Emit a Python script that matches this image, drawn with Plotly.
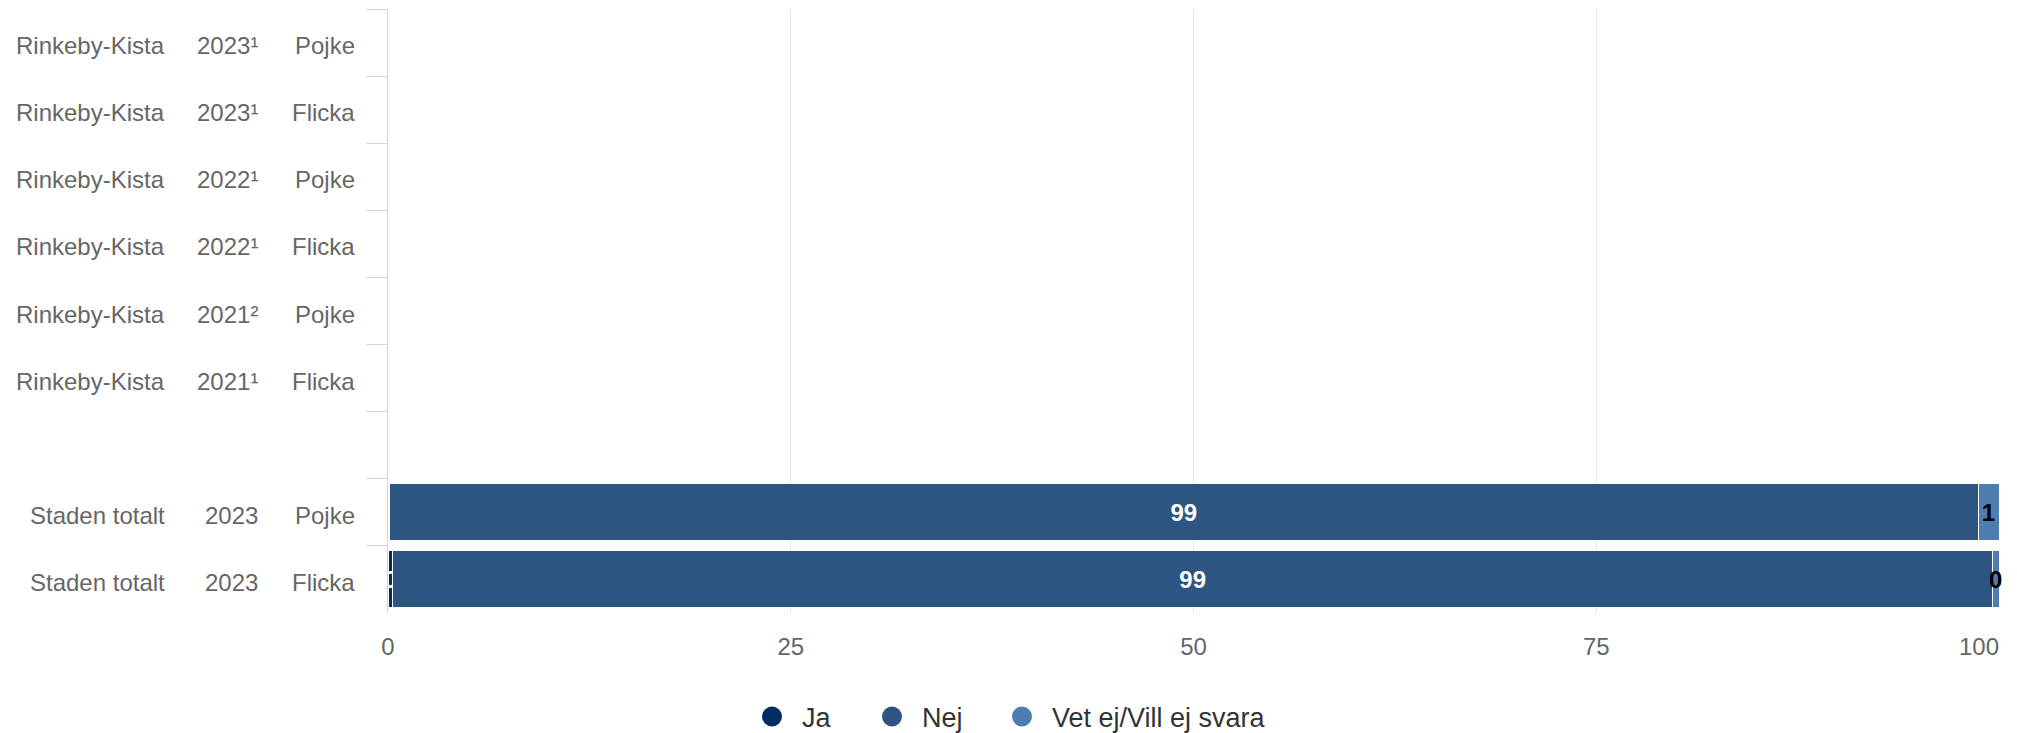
import plotly.graph_objects as go

# ---- data ----
regions = ["Rinkeby-Kista"] * 6 + ["", "Staden totalt", "Staden totalt"]
years = ["2023¹", "2023¹", "2022¹", "2022¹", "2021²", "2021¹", "", "2023", "2023"]
genders = ["Pojke", "Flicka", "Pojke", "Flicka", "Pojke", "Flicka", "", "Pojke", "Flicka"]

series_names = ["Ja", "Nej", "Vet ej/Vill ej svara"]
ja = [None, None, None, None, None, None, None, 0.1, 0.3]
nej = [None, None, None, None, None, None, None, 98.6, 99.3]
vet = [None, None, None, None, None, None, None, 1.3, 0.4]
x_ticks = [0, 25, 50, 75, 100]
x_tick_labels = ["0", "25", "50", "75", "100"]

# ---- styling ----
colors = ["#022b60", "#2c5582", "#4e7eb0"]
label_colors = ["#ffffff", "#ffffff", "#000000"]
legend_widths = [55, 65, None]
FONT = "Liberation Sans, Arial, sans-serif"

keys = [f"{r}|{y}|{g}" for r, y, g in zip(regions, years, genders)]

plot_left, plot_right, plot_top, plot_bottom = 388, 1999, 9, 613
W, H = 2017, 733
plot_w = plot_right - plot_left
plot_h = plot_bottom - plot_top

# the last tick label is right-justified to the plot edge (as in the original),
# so it is drawn as an annotation anchored at that tick value
tick_text = list(x_tick_labels[:-1]) + [""]

fig = go.Figure()
for name, vals, col, lcol, lw in zip(series_names, [ja, nej, vet], colors,
                                      label_colors, legend_widths):
    fig.add_trace(go.Bar(
        x=vals, y=keys, orientation="h", name=name, legendgroup=name,
        showlegend=False,
        marker=dict(color=col, line=dict(color="#ffffff", width=1)),
        texttemplate="%{x:.0f}", textposition="inside", insidetextanchor="middle",
        textangle=0, constraintext="none", cliponaxis=False,
        textfont=dict(family=FONT, size=24, color=lcol, weight="bold"),
        hovertemplate="%{y}: %{x}<extra>" + name + "</extra>",
    ))
    sc = dict(
        x=[None], y=[None], mode="markers", name=name, legendgroup=name,
        marker=dict(color=col, symbol="circle", size=25,
                    line=dict(color=col, width=4)),
        showlegend=True, hoverinfo="skip",
    )
    if lw:
        sc["legendwidth"] = lw
    fig.add_trace(go.Scatter(**sc))

fig.add_annotation(
    x=x_ticks[-1], xref="x", y=-(646 - plot_bottom) / plot_h, yref="paper",
    text=x_tick_labels[-1], showarrow=False, xanchor="right", yanchor="middle",
    xshift=2, font=dict(family=FONT, size=24, color="#666666"),
)

# multi-column category labels
cols = [(regions, 167), (years, 260), (genders, 357)]
for texts, right_px in cols:
    xp = (right_px - plot_left) / plot_w
    for k, t in zip(keys, texts):
        if t:
            fig.add_annotation(
                x=xp, xref="paper", y=k, yref="y", text=t, showarrow=False,
                xanchor="right", yanchor="middle", yshift=-3,
                font=dict(family=FONT, size=24, color="#666666"),
            )

fig.update_layout(
    width=W, height=H,
    barmode="stack", bargap=0.15,
    margin=dict(l=plot_left, r=W - plot_right, t=plot_top, b=H - plot_bottom,
                autoexpand=False),
    plot_bgcolor="#ffffff", paper_bgcolor="#ffffff",
    font=dict(family=FONT, color="#666666"),
    showlegend=True,
    legend=dict(
        orientation="h", x=(742 - plot_left) / plot_w, xanchor="left",
        y=-(717 - plot_bottom) / plot_h, yanchor="middle",
        itemwidth=50,
        font=dict(family=FONT, size=27, color="#333333"),
        bgcolor="rgba(0,0,0,0)",
    ),
    xaxis=dict(
        range=[0, 100], tickvals=x_ticks, ticktext=tick_text,
        showgrid=True, gridcolor="#e6e6e6",
        gridwidth=1, zeroline=False, showline=False, ticks="",
        ticklabelstandoff=17,
        tickfont=dict(family=FONT, size=24, color="#666666"),
        fixedrange=True,
    ),
    yaxis=dict(
        type="category", categoryorder="array", categoryarray=keys,
        range=[len(keys) - 0.5, -0.5], showticklabels=False,
        tickson="boundaries", ticks="outside", ticklen=21, tickcolor="#ccd6eb",
        tickwidth=1, showgrid=False, showline=True, linecolor="#ccd6eb",
        linewidth=1, zeroline=False, fixedrange=True,
    ),
)

fig.write_html(
    "out.html",
    config={"displayModeBar": False},
    post_script="document.body.style.margin='0';document.body.style.overflow='hidden';",
)
